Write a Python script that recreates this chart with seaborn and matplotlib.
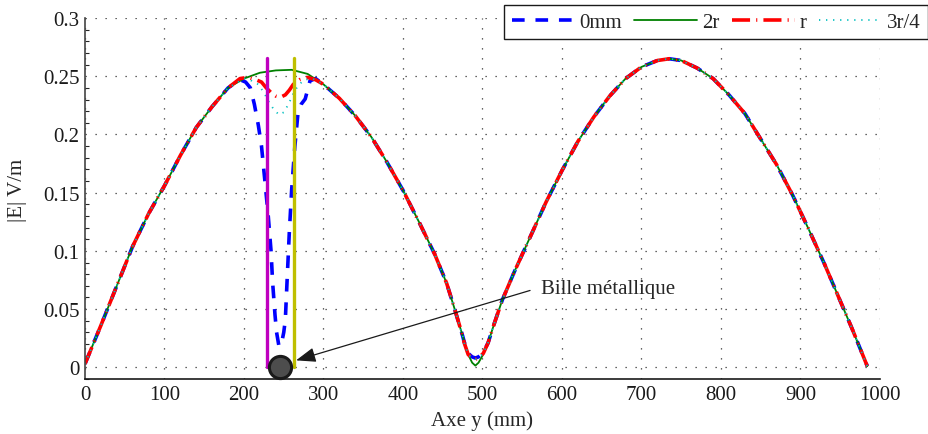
import matplotlib
matplotlib.use("Agg")
import matplotlib.pyplot as plt
import seaborn as sns
import pandas as pd
from matplotlib.ticker import MultipleLocator, FixedLocator, FixedFormatter

# ---------------- data ----------------
# common profile (series "2r"), position along y (mm) and |E| (V/m)
y_mm = [0, 20, 40, 60, 80, 100, 120, 140, 160, 180,
        200, 220, 240, 260, 280, 300, 320, 340, 360, 380,
        400, 420, 440, 455, 465, 475, 482, 487, 491, 495,
        500, 507, 515, 525, 540, 560, 580, 600, 620, 640,
        660, 680, 700, 720, 735, 750, 770, 790, 810, 830,
        850, 870, 890, 910, 930, 950, 965, 984]
e_2r = [0.003, 0.036, 0.070, 0.104, 0.132, 0.156, 0.182, 0.206, 0.224, 0.240,
        0.248, 0.253, 0.255, 0.2555, 0.252, 0.243, 0.231, 0.216, 0.198, 0.176,
        0.152, 0.125, 0.097, 0.072, 0.050, 0.027, 0.011, 0.004, 0.0015, 0.004,
        0.010, 0.021, 0.038, 0.058, 0.082, 0.112, 0.142, 0.169, 0.194, 0.215,
        0.233, 0.248, 0.258, 0.2635, 0.265, 0.2635, 0.257, 0.248, 0.234, 0.218,
        0.196, 0.174, 0.148, 0.119, 0.089, 0.057, 0.033, 0.001]

# local deviations near the metallic ball
dip_x_0mm = [195, 202, 208, 213, 218, 222, 226, 230.5, 234, 236, 239, 241, 244,
             247, 250, 252, 254.5, 257, 260, 264, 268, 272, 277, 283, 290, 300]
dip_0mm = [0.247, 0.245, 0.240, 0.226, 0.208, 0.190, 0.162, 0.130, 0.100, 0.073,
           0.045, 0.030, 0.018, 0.020, 0.030, 0.041, 0.079, 0.116, 0.153, 0.190,
           0.219, 0.226, 0.2305, 0.246, 0.248, 0.243]
dip_x_r = [195, 205, 215, 222, 228, 234, 240, 246, 252, 257, 262, 270, 280, 290, 300]
dip_r = [0.248, 0.249, 0.247, 0.245, 0.240, 0.236, 0.233, 0.232, 0.234, 0.238,
         0.243, 0.247, 0.249, 0.247, 0.243]
dip_x_3r4 = [200, 210, 218, 225, 232, 238, 244, 250, 256, 262, 268, 276, 286, 300]
dip_3r4 = [0.248, 0.246, 0.243, 0.236, 0.227, 0.221, 0.217, 0.219, 0.226, 0.235,
           0.242, 0.247, 0.248, 0.243]

# local deviations at the node (~490 mm)
node_x = [477, 482, 487, 491, 495, 501]
node_0mm = [0.022, 0.012, 0.009, 0.008, 0.009, 0.013]
node_r = [0.021, 0.011, 0.008, 0.007, 0.008, 0.012]
node_3r4 = [0.021, 0.011, 0.008, 0.007, 0.008, 0.012]

# markers of the ball edges and ball centre
edge_left_mm = 228.5
edge_right_mm = 262.5
edge_top = 0.266
ball_mm = 245
ball_e = 0.0

x_ticks = [0, 100, 200, 300, 400, 500, 600, 700, 800, 900, 1000]
y_ticks = [0, 0.05, 0.1, 0.15, 0.2, 0.25, 0.3]
y_tick_labels = ["0", "0.05", "0.1", "0.15", "0.2", "0.25", "0.3"]


def combine(dx, dy, nx, ny):
    pts = [(x, v) for x, v in zip(y_mm, e_2r)
           if not (dx[0] <= x <= dx[-1]) and not (nx[0] <= x <= nx[-1])]
    pts += list(zip(dx, dy)) + list(zip(nx, ny))
    pts.sort()
    return pd.DataFrame(pts, columns=["y", "E"])


df_2r = pd.DataFrame({"y": y_mm, "E": e_2r})
df_0 = combine(dip_x_0mm, dip_0mm, node_x, node_0mm)
df_r = combine(dip_x_r, dip_r, node_x, node_r)
df_34 = combine(dip_x_3r4, dip_3r4, node_x, node_3r4)

# ---------------- style ----------------
sns.set_theme(style="white")
plt.rcParams["font.family"] = ["Liberation Serif", "DejaVu Serif"]
FS = 15

fig = plt.figure(figsize=(9.29, 4.35), dpi=100)
ax = fig.add_axes([85 / 929, 1 - 380 / 435, 795 / 929, 361 / 435])

blue = (0, 0, 1)
green = (0, 0.5, 0)
red = (1, 0, 0)
cyan = (0, 0.75, 0.75)

sns.lineplot(data=df_0, x="y", y="E", ax=ax, sort=False, estimator=None,
             color=blue, lw=2.6, linestyle=(0, (3.5, 3.0)), label="0mm")
sns.lineplot(data=df_2r, x="y", y="E", ax=ax, sort=False, estimator=None,
             color=green, lw=1.3, linestyle="-", label="2r")
sns.lineplot(data=df_r, x="y", y="E", ax=ax, sort=False, estimator=None,
             color=red, lw=2.6, linestyle=(0, (5, 1.7, 0.3, 1.7)), label="r")
sns.lineplot(data=df_34, x="y", y="E", ax=ax, sort=False, estimator=None,
             color=cyan, lw=1.3, linestyle=(0, (0.7, 3.2)), label="3r/4")

ax.plot([edge_left_mm, edge_left_mm], [0, edge_top], color=(0.75, 0, 0.75), lw=2.4)
ax.plot([edge_right_mm, edge_right_mm], [0, edge_top], color=(0.75, 0.75, 0), lw=2.4)
ax.plot([ball_mm], [ball_e], marker="o", ms=16, mfc="#4d4d4d", mec="k", mew=2.2,
        zorder=6, clip_on=False)

ax.annotate("Bille métallique", xy=(265.5, 0.006), xytext=(574, 0.0673),
            ha="left", va="center", fontsize=FS,
            arrowprops=dict(arrowstyle="-|>,head_length=0.8,head_width=0.3",
                            color="k", lw=0.9, shrinkA=6, shrinkB=0,
                            relpos=(0, 0.6), mutation_scale=15))

ax.set_xlim(0, 1000)
ax.set_ylim(-0.01, 0.3)
ax.xaxis.set_major_locator(FixedLocator(x_ticks))
ax.yaxis.set_major_locator(FixedLocator(y_ticks))
ax.yaxis.set_major_formatter(FixedFormatter(y_tick_labels))
ax.yaxis.set_minor_locator(MultipleLocator(0.01))
ax.tick_params(axis="both", which="major", direction="in", length=7, width=1,
               labelsize=FS, colors="k", pad=4)
ax.tick_params(axis="y", which="minor", direction="in", length=3, width=0.8,
               left=True)
ax.tick_params(top=False, right=False)

ax.grid(True, which="major", color="#333333", lw=0.9, linestyle=(0, (1, 7)))
for s in ["top", "right"]:
    ax.spines[s].set_visible(False)
ax.spines["left"].set_color("#444444")
ax.spines["bottom"].set_color("k")
ax.spines["left"].set_linewidth(1.2)
ax.spines["bottom"].set_linewidth(1.2)

ax.set_xlabel("Axe y (mm)", fontsize=FS)
ax.set_ylabel("|E| V/m", fontsize=FS)
ax.xaxis.set_label_coords(0.5, -0.1136)
ax.xaxis.label.set_va("center")
ax.yaxis.set_label_coords(-0.0855, 0.526)
ax.yaxis.label.set_va("center")

handles, labels = ax.get_legend_handles_labels()
if ax.get_legend() is not None:
    ax.get_legend().remove()
leg = fig.legend(handles, labels, loc="upper right", ncol=4,
                 bbox_to_anchor=(928 / 929, 1 - 6 / 435),
                 bbox_transform=fig.transFigure, frameon=True, fancybox=False,
                 edgecolor="k", fontsize=FS, handlelength=3.0, handletextpad=0.25,
                 columnspacing=0.6, borderpad=0.35, borderaxespad=0)
leg.get_frame().set_linewidth(1.0)
leg.get_frame().set_alpha(1)

fig.savefig("out.png", dpi=100)
